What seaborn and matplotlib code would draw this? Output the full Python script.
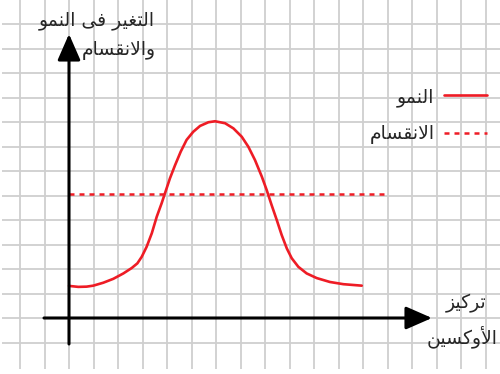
import numpy as np
import pandas as pd
import matplotlib
matplotlib.use("Agg")
import matplotlib.pyplot as plt
import seaborn as sns

# values in grid cells, origin where the two axes cross
growth_x = [0.0, 0.38, 0.72, 0.99, 1.40, 1.81, 2.22, 2.56, 2.79, 2.97, 3.17, 3.38,
            3.58, 3.78, 3.96, 4.12, 4.33, 4.56, 4.80, 5.07, 5.35, 5.69, 5.96,
            6.37, 6.71, 7.05, 7.32, 7.59, 7.87, 8.07, 8.27, 8.48, 8.68, 8.89,
            9.09, 9.36, 9.70, 10.11, 10.65, 11.20, 11.95]
growth_y = [1.31, 1.27, 1.28, 1.32, 1.44, 1.60, 1.82, 2.04, 2.23, 2.50, 2.91, 3.46,
            4.13, 4.68, 5.22, 5.70, 6.24, 6.79, 7.27, 7.60, 7.84, 7.99, 8.03,
            7.95, 7.74, 7.40, 6.99, 6.45, 5.77, 5.22, 4.61, 4.00, 3.39, 2.84,
            2.44, 2.09, 1.82, 1.63, 1.47, 1.38, 1.32]
division_x = [0, 13.0]
division_y = [5.06, 5.06]

legend_labels = ["النمو", "الانقسام"]
y_title = ["التغير فى النمو", "والانقسام"]
x_title = ["تركيز", "الأوكسين"]

RED = "#ee1c25"
CELL = 24.5  # px per grid cell
X0, Y0 = 69, 318  # pixel position of the origin

# matplotlib has no arabic shaping, so pick the presentation forms by hand
FORMS = {
    'ا': ('\uFE8D', '\uFE8E', None, None),
    'أ': ('\uFE83', '\uFE84', None, None),
    'ر': ('\uFEAD', '\uFEAE', None, None),
    'ز': ('\uFEAF', '\uFEB0', None, None),
    'و': ('\uFEED', '\uFEEE', None, None),
    'ى': ('\uFEEF', '\uFEF0', None, None),
    'ل': ('\uFEDD', '\uFEDE', '\uFEDF', '\uFEE0'),
    'ت': ('\uFE95', '\uFE96', '\uFE97', '\uFE98'),
    'غ': ('\uFECD', '\uFECE', '\uFECF', '\uFED0'),
    'ي': ('\uFEF1', '\uFEF2', '\uFEF3', '\uFEF4'),
    'ف': ('\uFED1', '\uFED2', '\uFED3', '\uFED4'),
    'ن': ('\uFEE5', '\uFEE6', '\uFEE7', '\uFEE8'),
    'م': ('\uFEE1', '\uFEE2', '\uFEE3', '\uFEE4'),
    'ق': ('\uFED5', '\uFED6', '\uFED7', '\uFED8'),
    'س': ('\uFEB1', '\uFEB2', '\uFEB3', '\uFEB4'),
    'ك': ('\uFED9', '\uFEDA', '\uFEDB', '\uFEDC'),
    'لا': ('\uFEFB', '\uFEFC', None, None),
    'لأ': ('\uFEF7', '\uFEF8', None, None),
}


def shape(text):
    tokens = []
    i = 0
    while i < len(text):
        if text[i] == 'ل' and i + 1 < len(text) and text[i + 1] in 'اأ':
            tokens.append(text[i:i + 2])
            i += 2
        else:
            tokens.append(text[i])
            i += 1
    out = []
    for k, t in enumerate(tokens):
        if t not in FORMS:
            out.append(t)
            continue
        iso, fin, ini, med = FORMS[t]
        prev_conn = k > 0 and tokens[k - 1] in FORMS and FORMS[tokens[k - 1]][2] is not None
        next_conn = k + 1 < len(tokens) and tokens[k + 1] in FORMS
        if prev_conn and next_conn and med:
            out.append(med)
        elif prev_conn:
            out.append(fin)
        elif next_conn and ini:
            out.append(ini)
        else:
            out.append(iso)
    return ''.join(out)[::-1]


def px(x, y):
    return (x - X0) / CELL, (Y0 - y) / CELL


sns.set_style("white")
plt.rcParams['font.family'] = ['DejaVu Sans']

fig = plt.figure(figsize=(5, 3.74), dpi=100)
ax = fig.add_axes([0, 0, 1, 1])
xmin, _ = px(0, 0)
xmax, _ = px(500, 0)
_, ymax = px(0, 0)
_, ymin = px(0, 374)
ax.set_xlim(xmin, xmax)
ax.set_ylim(ymin, ymax)
ax.axis("off")

# background grid
grid_kw = dict(color="#cfcfcf", lw=1.3, zorder=0)
ax.vlines(np.arange(-2, 18), px(0, 369)[1], ymax, **grid_kw)
ax.hlines(np.arange(-1, 13), px(2, 0)[0], xmax, **grid_kw)

# curves
sns.lineplot(x=growth_x, y=growth_y, color=RED, lw=1.9, ax=ax,
             label=shape(legend_labels[0]), sort=False, zorder=3)
sns.lineplot(x=division_x, y=division_y, color=RED, lw=1.8, ax=ax,
             label=shape(legend_labels[1]), zorder=3)
ax.lines[-1].set_dashes((2, 2))

# axes arrows
arrow = dict(arrowstyle="-|>,head_length=1.6,head_width=0.7", color="black",
             lw=2.2, shrinkA=0, shrinkB=0, mutation_scale=10)
ax.annotate("", xy=px(432, Y0), xytext=px(44, Y0), arrowprops=arrow, zorder=4)
ax.annotate("", xy=px(X0, 34), xytext=px(X0, 344), arrowprops=arrow, zorder=4)

fs = 13.5
ax.text(*px(155, 20), shape(y_title[0]), ha="right", va="center", fontsize=fs)
ax.text(*px(156, 50), shape(y_title[1]), ha="right", va="center", fontsize=fs)
ax.text(*px(486, 303), shape(x_title[0]), ha="right", va="center", fontsize=fs)
ax.text(*px(497, 337), shape(x_title[1]), ha="right", va="center", fontsize=fs)

ax.legend(loc="upper right", bbox_to_anchor=(487 / 500, 1 - 87 / 374),
          markerfirst=False, frameon=False, fontsize=fs, handlelength=2.3,
          handletextpad=0.5, labelspacing=0.95, borderpad=0, borderaxespad=0)

fig.savefig("out.png", dpi=100)
